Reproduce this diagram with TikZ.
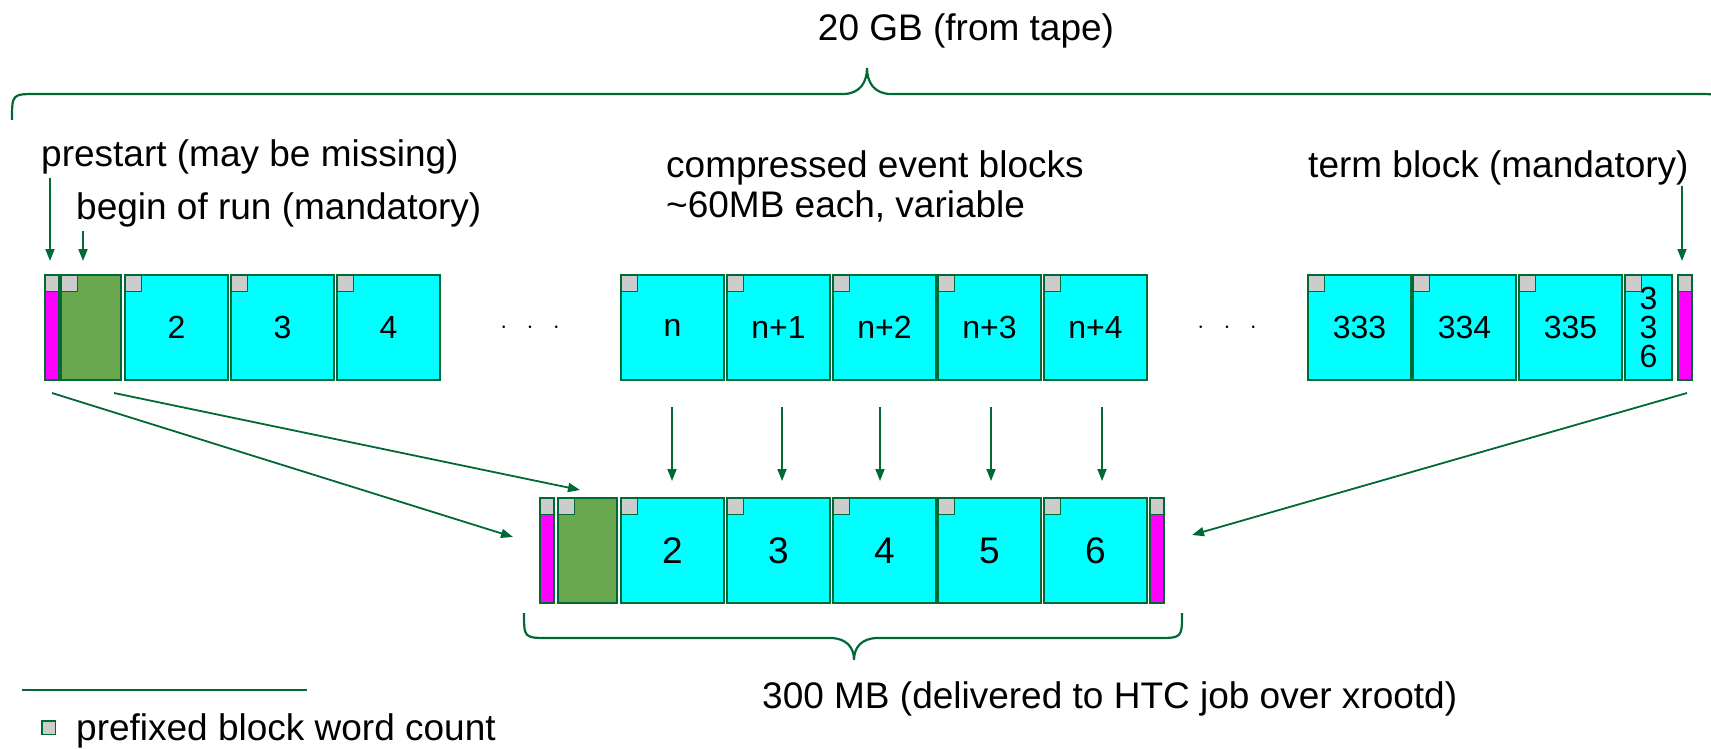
\documentclass[tikz,border=0pt]{standalone}
\usepackage{fontspec}
\setmainfont{Liberation Sans}
\usetikzlibrary{arrows.meta}
\definecolor{dkgreen}{RGB}{0,105,52}
\definecolor{cyanfill}{RGB}{0,255,255}
\definecolor{pinkfill}{RGB}{255,0,255}
\definecolor{greenfill}{RGB}{106,168,79}
\definecolor{greysq}{RGB}{204,204,204}
\begin{document}
\begin{tikzpicture}[x=1pt,y=-1pt,
  blk/.style={draw=dkgreen, line width=2pt, inner sep=0pt, anchor=north west, minimum height=105pt},
  cyanblk/.style={blk, fill=cyanfill, minimum width=103pt},
  topfont/.style={font=\fontsize{32}{29}\selectfont},
  botfont/.style={font=\fontsize{37}{44}\selectfont},
  pinkblk/.style={blk, fill=pinkfill, minimum width=14pt},
  greenblk/.style={blk, fill=greenfill, minimum width=60pt},
  sq/.style={draw=dkgreen, line width=1.5pt, fill=greysq, minimum width=16.5pt, minimum height=16.5pt, inner sep=0pt, anchor=north west},
  lbl/.style={font=\fontsize{37}{44}\selectfont, inner sep=0pt, anchor=base west},
  arr/.style={draw=dkgreen, line width=1.8pt, -{Triangle[length=12pt,width=9pt]}},
  brace/.style={draw=dkgreen, line width=2.2pt}
]
\useasboundingbox (0,0) rectangle (1711,749);

% ---------- top row ----------
\node[pinkblk] (tp) at (44,274) {};
\node[sq, minimum width=14pt] (tpsq) at (tp.north west) {};
\node[greenblk] (tg) at (60,274) {};
\node[sq] (tgsq) at (tg.north west) {};
\foreach \x/\t/\n in {124/2/t2, 230/3/t3, 336/4/t4,
                     620/n/tn, 726/n+1/tn1, 832/n+2/tn2, 937/n+3/tn3, 1043/n+4/tn4,
                     1307/333/t333, 1412/334/t334, 1518/335/t335}{
  \node[cyanblk, topfont] (\n) at (\x,274) {\t};
  \node[sq] (\n sq) at (\n.north west) {};
}
\node[blk, fill=cyanfill, minimum width=47pt, topfont, align=center] (t336) at (1624,274) {3\\3\\6};
\node[sq] (t336sq) at (t336.north west) {};
\node[pinkblk] (tq) at (1677,274) {};
\node[sq, minimum width=14pt] (tqsq) at (tq.north west) {};

\node[topfont, inner sep=0pt] (dots1) at (530,328) {$\cdot\;\;\cdot\;\;\cdot$};
\node[topfont, inner sep=0pt] (dots2) at (1227,328) {$\cdot\;\;\cdot\;\;\cdot$};

% ---------- bottom row ----------
\node[pinkblk] (bp) at (539,497) {};
\node[sq, minimum width=14pt] (bpsq) at (bp.north west) {};
\node[greenblk, minimum width=59pt] (bg) at (557,497) {};
\node[sq] (bgsq) at (bg.north west) {};
\foreach \x/\t/\n in {620/2/b2, 726/3/b3, 832/4/b4, 937/5/b5, 1043/6/b6}{
  \node[cyanblk, botfont] (\n) at (\x,497) {\t};
  \node[sq] (\n sq) at (\n.north west) {};
}
\node[pinkblk] (bq) at (1149,497) {};
\node[sq, minimum width=14pt] (bqsq) at (bq.north west) {};

% ---------- labels ----------
\node[lbl, anchor=base] (lt) at (966,41) {20 GB (from tape)};
\node[lbl] (lpre) at (41,167) {prestart (may be missing)};
\node[lbl] (lbor) at (76,219) {begin of run (mandatory)};
\node[lbl] (lcomp) at (666,178) {compressed event blocks};
\node[lbl] (lsize) at (666,217) {\char"007E 60MB each, variable};
\node[lbl] (lterm) at (1308,178) {term block (mandatory)};
\node[lbl] (lbot) at (762,708) {300 MB (delivered to HTC job over xrootd)};
\node[sq, minimum width=13.5pt, minimum height=13.5pt] (legsq) at (41,720) {};
\node[lbl] (legtxt) at (76,740) {prefixed block word count};

% ---------- arrows ----------
\coordinate (pa) at (50,178);
\coordinate (pb) at (50,261);
\coordinate (ba) at (83,231);
\coordinate (bb) at (83,261);
\coordinate (ta) at (1682,186);
\coordinate (tb) at (1682,261);
\draw[arr] (pa) -- (pb);
\draw[arr] (ba) -- (bb);
\draw[arr] (ta) -- (tb);

\coordinate (d1s) at (52,393);
\coordinate (d1e) at (513,537);
\coordinate (d2s) at (114,393);
\coordinate (d2e) at (580,490);
\coordinate (d3s) at (1687,393);
\coordinate (d3e) at (1192,535);
\draw[arr] (d1s) -- (d1e);
\draw[arr] (d2s) -- (d2e);
\draw[arr] (d3s) -- (d3e);

\foreach \x/\n in {672/v1, 782/v2, 880/v3, 991/v4, 1102/v5}{
  \coordinate (\n s) at (\x,407);
  \coordinate (\n e) at (\x,481);
  \draw[arr] (\n s) -- (\n e);
}

% ---------- braces ----------
\draw[brace] (12,120) .. controls (12,94) .. (37,94) -- (843,94)
  .. controls (860,94) and (867,82) .. (867,68)
  .. controls (867,82) and (874,94) .. (891,94) -- (1697,94)
  .. controls (1722,94) .. (1722,120);
\draw[brace] (524,613) .. controls (524,638) .. (549,638) -- (830,638)
  .. controls (847,638) and (854,648) .. (854,660)
  .. controls (854,648) and (861,638) .. (878,638) -- (1157,638)
  .. controls (1182,638) .. (1182,613);

% ---------- legend line ----------
\coordinate (lg1) at (22,690);
\coordinate (lg2) at (307,690);
\draw[dkgreen, line width=1.8pt] (lg1) -- (lg2);
\end{tikzpicture}
\end{document}
